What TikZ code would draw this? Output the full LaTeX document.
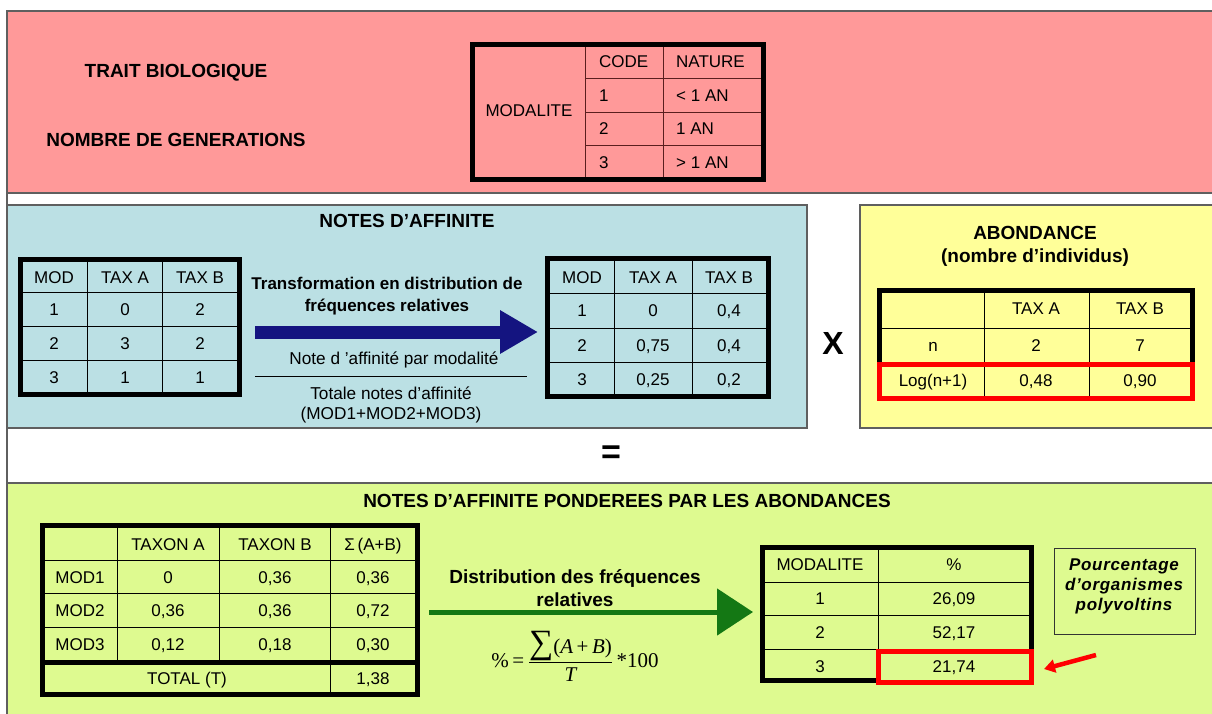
\documentclass[tikz,border=0pt]{standalone}
\usepackage{fontspec}
\setmainfont{Liberation Sans}
\newfontfamily\formulafont{Liberation Serif}
\newfontfamily\spacedfont[LetterSpace=4]{Liberation Sans}
\usetikzlibrary{arrows.meta,positioning}

\definecolor{traitpink}{RGB}{255,153,153}
\definecolor{notesblue}{RGB}{187,224,228}
\definecolor{abundyellow}{RGB}{255,255,153}
\definecolor{weightgreen}{RGB}{222,250,144}
\definecolor{framegray}{RGB}{95,95,95}
\definecolor{gridbrown}{RGB}{90,30,30}
\definecolor{arrowblue}{RGB}{20,20,128}
\definecolor{arrowgreen}{RGB}{20,120,20}

\tikzset{
  panel/.style={draw=framegray, line width=1.2pt},
  frame/.style={line width=5pt},
  grid/.style={line width=1pt},
  cell/.style={inner sep=0pt, text height=12.2pt, text depth=0pt, font=\fontsize{17}{19}\selectfont},
  heading/.style={font=\bfseries\fontsize{19}{23}\selectfont, align=center},
  remark/.style={font=\fontsize{17.2}{20}\selectfont, align=center},
}

\begin{document}
\begin{tikzpicture}[x=1pt, y=-1pt]
\useasboundingbox (0,0) rectangle (1212,713);
\clip (0,0) rectangle (1212,713);

% coloured panels
\fill[traitpink] (7,11) rectangle (1220,193);
\draw[panel] (7,193) -- (1220,193);
\draw[panel, fill=notesblue] (7,205) rectangle (807,428);
\draw[panel, fill=abundyellow] (860,205) rectangle (1220,428);
\draw[panel, fill=weightgreen] (7,483) rectangle (1220,720);
\draw[panel] (1220,11) -- (7,11) -- (7,713);

% trait and its modalities
\node[heading] (trait) at (176,73) {TRAIT BIOLOGIQUE};
\node[heading] (generations) at (176,140) {NOMBRE DE GENERATIONS};
\draw[grid, gridbrown] (585,44) -- (585,180) (663,44) -- (663,180)
  (585,78) -- (764,78) (585,112) -- (764,112) (585,145) -- (764,145);
\draw[frame] (472.5,44.5) rectangle (763.5,179.5);
\node[cell] (modalite) at (529,110) {MODALITE};
\foreach \y/\code/\nature [count=\r] in {61/CODE/NATURE, 95/1/< 1 AN, 128/2/1 AN, 162/3/> 1 AN} {
  \node[cell, anchor=west] (code-\r) at (599,\y) {\code};
  \node[cell, anchor=west] (nature-\r) at (676,\y) {\nature};
}

% raw affinity scores
\node[heading] (affinity) at (407,221) {NOTES D’AFFINITE};
\draw[grid] (87,259) -- (87,395) (162,259) -- (162,395)
  (20,292) -- (240,292) (20,326) -- (240,326) (20,360) -- (240,360);
\draw[frame] (20.5,259.5) rectangle (239.5,394.5);
\foreach \y/\a/\b/\c [count=\r] in {277/MOD/TAX A/TAX B, 309/1/0/2, 343/2/3/2, 377/3/1/1} {
  \node[cell] (raw-\r-1) at (54,\y) {\a};
  \node[cell] (raw-\r-2) at (125,\y) {\b};
  \node[cell] (raw-\r-3) at (200,\y) {\c};
}

\node[remark, font=\bfseries\fontsize{17}{22}\selectfont] (transform) at (387,296) {Transformation en distribution de\\fréquences relatives};
\coordinate (blue-start) at (255,332);
\coordinate (blue-end) at (538,332);
\draw[line width=13pt, arrowblue, -{Triangle[length=38pt,width=41pt]}] (blue-start) -- (blue-end);
\node[remark] (permod) at (394,360) {Note d ’affinité par modalité};
\draw[line width=0.8pt] (255,376) -- (527,376);
\node[remark] (total) at (391,405) {Totale notes d’affinité\\(MOD1+MOD2+MOD3)};

% relative frequencies
\draw[grid] (614,258) -- (614,397) (692,258) -- (692,397)
  (547,293) -- (769,293) (547,328) -- (769,328) (547,362) -- (769,362);
\draw[frame] (547.5,258.5) rectangle (768.5,396.5);
\foreach \y/\a/\b/\c [count=\r] in {277/MOD/TAX A/TAX B, 310/1/0/{0,4}, 345/2/{0,75}/{0,4}, 379/3/{0,25}/{0,2}} {
  \node[cell] (rel-\r-1) at (582,\y) {\a};
  \node[cell] (rel-\r-2) at (653,\y) {\b};
  \node[cell] (rel-\r-3) at (729,\y) {\c};
}

\node[font=\bfseries\fontsize{32}{32}\selectfont] (times) at (833,343) {X};

% abundances
\node[heading] (abund) at (1035,246) {ABONDANCE\\(nombre d’individus)};
\draw[grid] (984,293) -- (984,398) (1089,293) -- (1089,398) (882,328) -- (1190,328);
\draw[frame] (879.5,364) -- (879.5,290.5) -- (1192.5,290.5) -- (1192.5,364);
\draw[frame, red] (879.5,364.5) rectangle (1192.5,398.5);
\foreach \y/\a/\b/\c [count=\r] in {308//TAX A/TAX B, 345/n/2/7, 380/Log(n+1)/{0,48}/{0,90}} {
  \node[cell] (abund-\r-1) at (933,\y) {\a};
  \node[cell] (abund-\r-2) at (1036,\y) {\b};
  \node[cell] (abund-\r-3) at (1140,\y) {\c};
}

\node[font=\bfseries\fontsize{34}{34}\selectfont] (equals) at (611,455) {=};

% weighted scores
\node[heading] (weighted) at (627,501) {NOTES D’AFFINITE PONDEREES PAR LES ABONDANCES};
\draw[grid] (117,526) -- (117,662) (219,526) -- (219,662) (330,526) -- (330,694)
  (43,560) -- (417,560) (43,593) -- (417,593) (43,627) -- (417,627);
\draw[frame] (43,662) -- (417,662);
\draw[frame] (42.5,525.5) rectangle (417.5,694.5);
\foreach \y/\a/\b/\c/\d [count=\r] in {544//TAXON A/TAXON B/{Σ\,(A+B)}, 577/MOD1/0/{0,36}/{0,36},
    610/MOD2/{0,36}/{0,36}/{0,72}, 644/MOD3/{0,12}/{0,18}/{0,30}} {
  \node[cell] (wt-\r-1) at (80,\y) {\a};
  \node[cell] (wt-\r-2) at (168,\y) {\b};
  \node[cell] (wt-\r-3) at (275,\y) {\c};
  \node[cell] (wt-\r-4) at (373,\y) {\d};
}
\node[cell] (wt-total) at (187,678) {TOTAL (T)};
\node[cell] (wt-sum) at (373,678) {1,38};

\node[heading] (distrib) at (575,588) {Distribution des fréquences\\relatives};
\coordinate (green-start) at (429,612);
\coordinate (green-end) at (753,612);
\draw[line width=5pt, arrowgreen, -{Triangle[length=36pt,width=46pt]}] (green-start) -- (green-end);
\node[font=\formulafont\fontsize{21}{24}\selectfont, inner sep=0pt] (percent) at (575,656)
  {\%\,=\,$\displaystyle\frac{\hbox{{\fontsize{34}{34}\selectfont ∑}(\textit{A}\,+\,\textit{B})}}{\hbox{\itshape T}}$\,*100};

% final percentages
\draw[grid] (878,550) -- (878,679) (765,582) -- (1029,582) (765,615) -- (1029,615) (765,649) -- (1029,649);
\draw[frame] (878,680.5) -- (762.5,680.5) -- (762.5,547.5) -- (1031.5,547.5) -- (1031.5,652);
\draw[frame, red] (878.5,651.5) rectangle (1031.5,682.5);
\foreach \y/\a/\b [count=\r] in {564/MODALITE/\%, 598/1/{26,09}, 632/2/{52,17}, 666/3/{21,74}} {
  \node[cell] (pct-\r-1) at (820,\y) {\a};
  \node[cell] (pct-\r-2) at (954,\y) {\b};
}

\node[draw=black!80, line width=1pt, minimum width=141pt, minimum height=86pt] (polyvoltine-box) at (1124.5,591) {};
\node[font=\spacedfont\bfseries\itshape\fontsize{17}{20}\selectfont, align=center] (polyvoltine) at (1124,586) {Pourcentage\\d’organismes\\polyvoltins};
\coordinate (hint-start) at (1096,655);
\coordinate (hint-end) at (1044,669);
\draw[line width=4.5pt, red, -{Triangle[length=11pt,width=13pt]}] (hint-start) -- (hint-end);
\end{tikzpicture}
\end{document}
